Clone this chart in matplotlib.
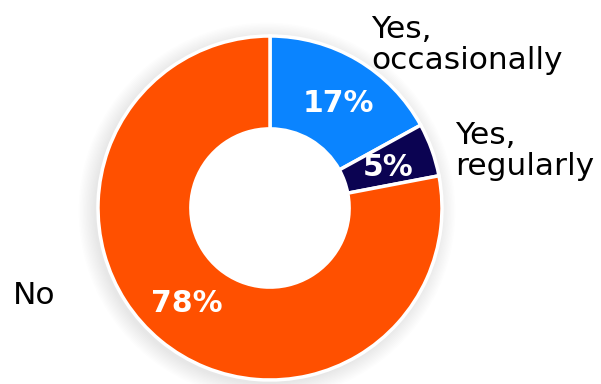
import matplotlib.pyplot as plt
from matplotlib.patches import Circle

labels = ['Yes,\noccasionally', 'Yes,\nregularly', 'No']
shares = [17, 5, 78]
colors = ['#0A84FF', '#0B0352', '#FF5000']

plt.rcParams['font.family'] = ['DejaVu Sans']

fig = plt.figure(figsize=(6.01, 3.84), dpi=100)
ax = fig.add_axes([0, 0, 1, 1])

cx, cy, r_out = 270, 176, 172
ring = 0.54
r_in = r_out * (1 - ring)

# soft shadow behind the ring
for i in range(12):
    ax.add_patch(Circle((cx - 3, cy - 3), r_out + 1 + i * 1.4, color='black',
                        alpha=0.008, lw=0, zorder=0))
ax.add_patch(Circle((cx, cy), r_in, color='white', lw=0, zorder=1))

wedges, _ = ax.pie(shares, colors=colors, startangle=90, counterclock=False,
                   center=(cx, cy), radius=r_out,
                   wedgeprops=dict(width=r_out * ring, edgecolor='white', linewidth=2.5))
for w in wedges:
    w.set_zorder(2)

# percentage labels sit mid-ring
pct_pos = [(338, 281), (388, 216), (187, 81)]
for s, (x, y) in zip(shares, pct_pos):
    ax.text(x, y, f'{s}%', color='white', fontsize=21.5, fontweight='bold',
            ha='center', va='center', zorder=3)

label_pos = [(371, 339), (455, 233), (13, 89)]
for lab, (x, y) in zip(labels, label_pos):
    ax.text(x, y, lab, fontsize=22.5, color='black', ha='left', va='center',
            linespacing=1.1, zorder=3)

ax.set_xlim(0, 601)
ax.set_ylim(0, 384)
ax.set_aspect('equal')
ax.axis('off')

fig.savefig('out.png', dpi=100)
